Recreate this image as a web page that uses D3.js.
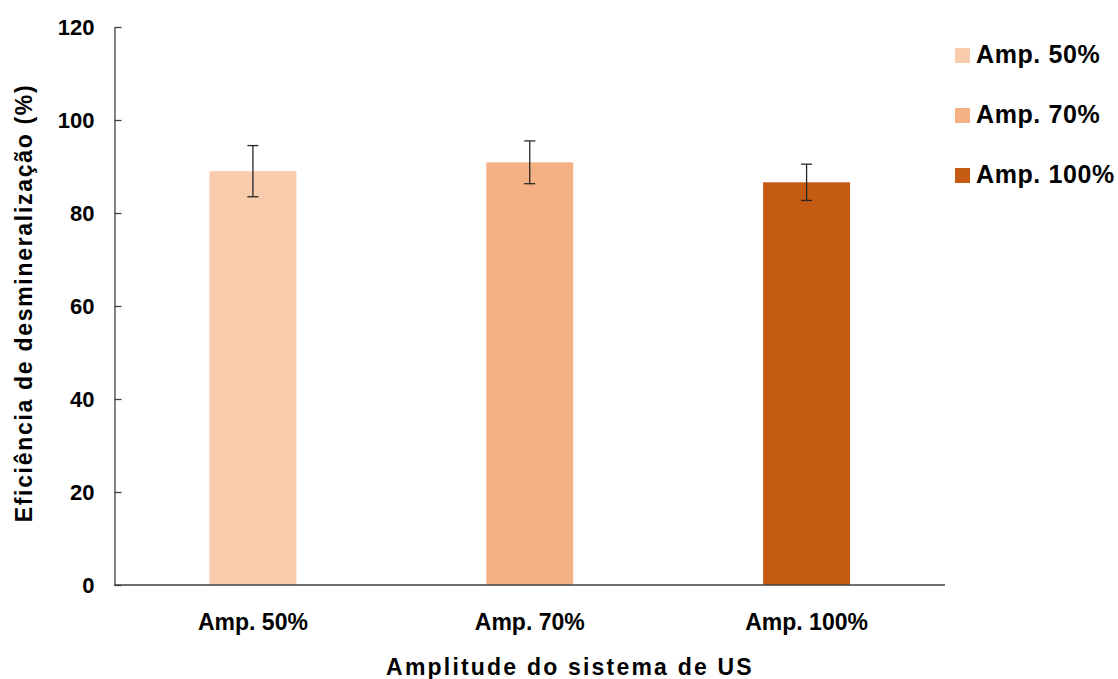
<!DOCTYPE html>
<html>
<head>
<meta charset="utf-8">
<script src="https://cdn.jsdelivr.net/npm/d3@7"></script>
<style>
  html, body { margin: 0; padding: 0; background: #ffffff; }
  svg { display: block; font-family: "Liberation Sans", Arial, sans-serif; font-weight: bold; }
</style>
</head>
<body>
<svg id="chart" width="1118" height="679"></svg>
<script>
// Demineralization efficiency by ultrasound amplitude
const categories = ["Amp. 50%", "Amp. 70%", "Amp. 100%"];
const efficiency = [89.0, 90.9, 86.6];
const stdError = [5.5, 4.6, 3.9];
const yTicks = [0, 20, 40, 60, 80, 100, 120];
const colors = ["#F8CBAD", "#F4B183", "#C55A11"];
const yTitle = "Eficiência de desmineralização (%)";
const xTitle = "Amplitude do sistema de US";

const svg = d3.select("#chart");
const plotLeft = 114.5, plotRight = 945, plotTop = 27, plotBottom = 585;

const x = d3.scaleBand()
  .domain(categories)
  .range([plotLeft, plotRight])
  .paddingInner(0.686)
  .paddingOuter(0.343);

const y = d3.scaleLinear().domain([0, 120]).range([plotBottom, plotTop]);

const color = d3.scaleOrdinal().domain(categories).range(colors);

// Bars
svg.append("g").selectAll("rect")
  .data(categories)
  .join("rect")
  .attr("x", d => x(d))
  .attr("width", x.bandwidth())
  .attr("y", (d, i) => y(efficiency[i]))
  .attr("height", (d, i) => y(0) - y(efficiency[i]))
  .attr("fill", d => color(d));

// Error bars
const eb = svg.append("g").attr("stroke", "#262626").attr("stroke-width", 1.3);
categories.forEach((c, i) => {
  const cx = x(c) + x.bandwidth() / 2;
  const hi = y(efficiency[i] + stdError[i]);
  const lo = y(efficiency[i] - stdError[i]);
  eb.append("line").attr("x1", cx).attr("x2", cx).attr("y1", hi).attr("y2", lo);
  eb.append("line").attr("x1", cx - 5.5).attr("x2", cx + 5.5).attr("y1", hi).attr("y2", hi);
  eb.append("line").attr("x1", cx - 5.5).attr("x2", cx + 5.5).attr("y1", lo).attr("y2", lo);
});

// Y axis (ticks point into the plot)
const yAxis = svg.append("g")
  .attr("transform", `translate(${plotLeft},0)`)
  .call(d3.axisLeft(y).tickValues(yTicks).tickSizeInner(-7).tickSizeOuter(0).tickPadding(20));
yAxis.select(".domain").attr("stroke", "#404040").attr("stroke-width", 1.3);
yAxis.selectAll(".tick line").attr("stroke", "#404040").attr("stroke-width", 1.3);
yAxis.selectAll(".tick text")
  .attr("fill", "#000")
  .style("font-size", "22px")
  .style("font-weight", "bold")
  .style("font-family", "'Liberation Sans', Arial, sans-serif");

// X axis
const xAxis = svg.append("g")
  .attr("transform", `translate(0,${plotBottom})`)
  .call(d3.axisBottom(x).tickSize(0).tickPadding(29));
xAxis.select(".domain").attr("stroke", "#404040").attr("stroke-width", 1.3)
  .attr("d", `M${plotLeft},0H${plotRight}`);
xAxis.selectAll(".tick text")
  .attr("fill", "#000")
  .style("font-size", "23px")
  .style("font-weight", "bold")
  .style("font-family", "'Liberation Sans', Arial, sans-serif");

// Axis titles
svg.append("text")
  .attr("x", 570).attr("y", 675)
  .attr("text-anchor", "middle")
  .style("font-size", "23px")
  .style("letter-spacing", "2.2px")
  .text(xTitle);

svg.append("text")
  .attr("transform", "translate(32,303) rotate(-90)")
  .attr("text-anchor", "middle")
  .style("font-size", "23px")
  .style("letter-spacing", "1.7px")
  .text(yTitle);

// Legend
const legend = svg.append("g");
categories.forEach((c, i) => {
  const row = legend.append("g").attr("transform", `translate(955,${63 + i * 60})`);
  row.append("rect").attr("x", 0).attr("y", -15).attr("width", 15).attr("height", 15).attr("fill", color(c));
  row.append("text").attr("x", 21).attr("y", 0)
    .style("font-size", "25px")
    .style("letter-spacing", "0.6px")
    .text(c);
});
</script>
</body>
</html>
